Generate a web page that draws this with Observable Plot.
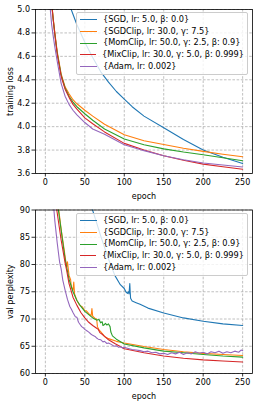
<!DOCTYPE html>
<html>
<head>
<meta charset="utf-8">
<script src="https://cdn.jsdelivr.net/npm/d3@7"></script>
<script src="https://cdn.jsdelivr.net/npm/@observablehq/plot@0.6"></script>
<style>
  body { margin: 0; background: white; }
  #wrap { position: relative; width: 258px; height: 404px; font-family: "DejaVu Sans", sans-serif; }
  #top, #bot { display: block; height: 202px; }
  .legend {
    position: absolute; box-sizing: border-box; width: 172px;
    background: rgba(255,255,255,0.8); border: 1px solid #cccccc; border-radius: 2px;
    padding: 1px 3px 1px 3px; font-size: 8.2px; line-height: 11.7px; color: black;
    white-space: nowrap;
  }
  .legend .row { display: flex; align-items: center; }
  .legend .sw { display: inline-block; width: 17px; height: 0; border-top: 1.3px solid; margin-right: 6px; }
</style>
</head>
<body>
<div id="wrap">
  <div id="top"></div>
  <div id="bot"></div>
  <div class="legend" id="leg1" style="left:76px; top:12px;"></div>
  <div class="legend" id="leg2" style="left:76px; top:213px;"></div>
</div>
<script>
// ---- categories / styling lists ----
const seriesNames = [
  "{SGD, lr: 5.0, β: 0.0}",
  "{SGDClip, lr: 30.0, γ: 7.5}",
  "{MomClip, lr: 50.0, γ: 2.5, β: 0.9}",
  "{MixClip, lr: 30.0, γ: 5.0, β: 0.999}",
  "{Adam, lr: 0.002}"
];
const seriesColors = ["#1f77b4", "#ff7f0e", "#2ca02c", "#d62728", "#9467bd"];

// ---- tick labels ----
const epochTicks = [0, 50, 100, 150, 200, 250];
const lossTicks = [3.6, 3.8, 4.0, 4.2, 4.4, 4.6, 4.8, 5.0];
const pplTicks = [60, 65, 70, 75, 80, 85, 90];

// ---- training loss: [epoch, loss] ----
const sgdTrain = [[20,5.40],[30,5.05],[35,4.96],[40,4.87],[50,4.72],[60,4.59],[70,4.47],[80,4.38],[90,4.30],[100,4.235],[110,4.17],[125,4.09],[150,3.99],[175,3.89],[200,3.80],[225,3.738],[250,3.685]];
const sgdClipTrain = [[1,6.8],[5,5.45],[8,5.06],[10,4.92],[12,4.80],[15,4.64],[20,4.45],[25,4.34],[30,4.28],[35,4.23],[40,4.195],[50,4.14],[60,4.09],[75,4.02],[100,3.93],[125,3.88],[150,3.848],[175,3.815],[200,3.789],[225,3.765],[250,3.743]];
const momClipTrain = [[1,6.8],[5,5.45],[8,5.05],[10,4.91],[12,4.79],[15,4.63],[20,4.44],[25,4.33],[30,4.26],[35,4.21],[40,4.17],[50,4.11],[60,4.055],[75,3.98],[100,3.895],[125,3.845],[150,3.81],[175,3.783],[200,3.76],[225,3.735],[250,3.709]];
const mixClipTrain = [[1,6.8],[5,5.45],[8,5.05],[10,4.91],[12,4.79],[15,4.62],[20,4.43],[25,4.32],[30,4.25],[35,4.19],[40,4.15],[50,4.075],[60,4.025],[75,3.955],[100,3.857],[125,3.80],[150,3.752],[175,3.713],[200,3.68],[225,3.657],[250,3.636]];
const adamTrain = [[1,6.5],[4,5.3],[6,5.02],[8,4.87],[10,4.77],[12,4.68],[15,4.56],[20,4.37],[25,4.26],[30,4.19],[35,4.14],[40,4.10],[50,4.035],[60,3.98],[75,3.935],[100,3.846],[125,3.795],[150,3.751],[175,3.718],[200,3.69],[225,3.672],[250,3.655]];

// ---- validation perplexity: [epoch, ppl] ----
const sgdVal = [[50,96],[58,90.8],[62,89],[70,85.3],[80,81],[88,78],[95,76.3],[100,75.6],[102,75.0],[104,74.7],[105,75.0],[106,74.6],[107,76.5],[107.5,75.0],[108,73.8],[110,73.3],[115,73.0],[120,72.7],[130,72.0],[150,71.1],[175,70.2],[200,69.6],[225,69.1],[250,68.8]];
const sgdClipVal = [[12,95],[17,90],[20,86.5],[23,83.5],[25,81.5],[27,79.5],[28,80.5],[30,78],[32,77.2],[33,75.8],[35,75.3],[36,76.8],[37,74.6],[40,73.4],[43,72.6],[45,72.4],[47,72.2],[50,71.5],[52,71.5],[55,71.0],[58,70.6],[59,71.9],[60,70.5],[63,70.1],[65,70.0],[66,68.6],[68,68.0],[70,67.7],[75,66.8],[80,66.4],[90,65.9],[100,65.6],[125,64.95],[150,64.4],[175,64.0],[200,63.7],[225,63.5],[250,63.3]];
const momClipVal = [[12,95],[15,91.5],[17,89.5],[20,86.3],[25,81],[30,77.3],[35,75],[40,73.4],[45,72.3],[50,71.4],[55,70.8],[60,70.2],[65,69.8],[68,69.9],[70,69.3],[72,69.5],[73,68.8],[75,69.0],[76,69.2],[78,68.9],[80,69.1],[82,68.6],[83,67.6],[85,66.9],[90,66.3],[100,65.4],[125,64.7],[150,64.1],[175,63.8],[200,63.5],[225,63.2],[250,63.0]];
const mixClipVal = [[10,96],[13,91.5],[15,89.5],[20,84.5],[25,80.3],[27,78.9],[30,76.5],[35,74.0],[40,72.5],[45,71.2],[50,70.2],[55,69.4],[60,68.8],[65,68.3],[67,68.1],[69,67.5],[72,67.2],[75,66.8],[80,66.2],[88,65.5],[100,64.55],[125,63.8],[150,63.2],[175,62.8],[200,62.5],[225,62.3],[250,62.1]];
const adamVal = [[6,100],[8,95],[10,91.5],[12,88],[15,84],[18,80.5],[20,79.2],[22,77.2],[25,75.3],[28,73.6],[31,72.3],[33,71.8],[35,71.2],[38,70.4],[40,70.3],[42,69.4],[44,69.0],[46,68.6],[48,68.4],[50,68.1],[53,67.8],[55,67.6],[58,67.2],[60,67.0],[63,66.8],[65,66.5],[67,66.3],[70,66.2],[73,65.8],[75,65.9],[78,65.5],[80,65.6],[84,65.3],[87,65.0],[90,65.1],[93,64.8],[95,64.9],[98,64.7],[100,64.8],[105,64.6],[110,64.4],[115,64.3],[120,64.2],[125,64.0],[130,64.1],[135,63.8],[140,63.9],[145,63.6],[150,63.7],[155,63.5],[160,63.8],[165,63.6],[170,63.9],[175,63.5],[180,63.8],[185,63.6],[190,64.0],[195,63.7],[200,63.9],[205,63.6],[210,64.0],[215,63.8],[220,64.1],[225,63.7],[230,64.0],[235,63.8],[240,64.1],[245,63.9],[248,64.3],[250,64.2]];

function toRows(seriesList) {
  const rows = [];
  seriesList.forEach((pts, i) => pts.forEach(([e, v]) => rows.push({series: seriesNames[i], epoch: e, value: v})));
  return rows;
}
const trainRows = toRows([sgdTrain, sgdClipTrain, momClipTrain, mixClipTrain, adamTrain]);
const valRows = toRows([sgdVal, sgdClipVal, momClipVal, mixClipVal, adamVal]);

function makePlot(rows, yTicks, yDomain, yLabel, fmt, mTop, mBottom) {
  return Plot.plot({
    width: 258, height: 202,
    marginLeft: 35, marginRight: 6, marginTop: mTop, marginBottom: mBottom,
    style: {fontFamily: "DejaVu Sans", fontSize: "8px", color: "black", background: "white", overflow: "visible"},
    x: {domain: [-12.5, 262.5]},
    y: {domain: yDomain},
    color: {domain: seriesNames, range: seriesColors},
    marks: [
      Plot.gridX(epochTicks, {stroke: "#b0b0b0", strokeOpacity: 1, strokeWidth: 0.8, strokeDasharray: "2.6,1.6"}),
      Plot.gridY(yTicks, {stroke: "#b0b0b0", strokeOpacity: 1, strokeWidth: 0.8, strokeDasharray: "2.6,1.6"}),
      Plot.line(rows, {x: "epoch", y: "value", z: "series", stroke: "series", strokeWidth: 1.1, clip: true}),
      Plot.frame({stroke: "black", strokeWidth: 0.8}),
      Plot.axisX(epochTicks, {tickSize: 3.5, tickPadding: 2.5, strokeWidth: 0.8, label: "epoch", labelAnchor: "center", labelArrow: "none", labelOffset: 25}),
      Plot.axisY(yTicks, {tickSize: 3.5, tickPadding: 2, strokeWidth: 0.8, tickFormat: fmt, label: yLabel, labelAnchor: "center", labelArrow: "none", labelOffset: 28})
    ]
  });
}

document.getElementById("top").appendChild(
  makePlot(trainRows, lossTicks, [3.6, 5.0], "training loss", d3.format(".1f"), 9, 29));
document.getElementById("bot").appendChild(
  makePlot(valRows, pplTicks, [60, 90], "val perplexity", d3.format("d"), 7.5, 31));

function fillLegend(id) {
  const el = document.getElementById(id);
  seriesNames.forEach((n, i) => {
    const row = document.createElement("div");
    row.className = "row";
    const sw = document.createElement("span");
    sw.className = "sw";
    sw.style.borderTopColor = seriesColors[i];
    const t = document.createElement("span");
    t.textContent = n;
    row.appendChild(sw); row.appendChild(t);
    el.appendChild(row);
  });
}
fillLegend("leg1");
fillLegend("leg2");
</script>
</body>
</html>
